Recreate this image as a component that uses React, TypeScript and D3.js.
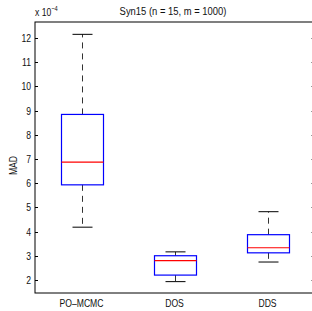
import { useEffect, useRef } from 'react';
import * as d3 from 'd3';

const categories = ['PO\u2013MCMC', 'DOS', 'DDS'];
const lowerWhisker = [4.18, 1.93, 2.74];
const q1 = [5.93, 2.2, 3.12];
const median = [6.87, 2.8, 3.33];
const q3 = [8.84, 3.0, 3.87];
const upperWhisker = [12.15, 3.16, 4.82];
const yTicks = [2, 3, 4, 5, 6, 7, 8, 9, 10, 11, 12];

const W = 312;
const H = 311;

export default function App() {
  const svgRef = useRef<SVGSVGElement>(null);

  useEffect(() => {
    if (!svgRef.current) return;
    const svg = d3.select(svgRef.current);
    svg.selectAll('*').remove();

    const left = 35, right = 314, top = 22, bottom = 293;
    const font = '"Liberation Sans", Arial, sans-serif';
    const sx = 0.82; // the reference text is a condensed Helvetica

    const x = d3.scaleLinear().domain([0.5, 3.5]).range([left, right]);
    const y = d3.scaleLinear().domain([1.46, 12.66]).range([bottom, top]);

    const data = categories.map((c, i) => ({
      name: c,
      pos: i + 1,
      lo: lowerWhisker[i],
      q1: q1[i],
      med: median[i],
      q3: q3[i],
      hi: upperWhisker[i],
    }));

    const label = (px: number, py: number, txt: string, anchor: string, size: number, rot = 0) =>
      svg.append('text')
        .attr('transform', `translate(${px},${py}) rotate(${rot}) scale(${sx},1)`)
        .attr('text-anchor', anchor).attr('font-family', font).attr('font-size', size)
        .attr('fill', '#111')
        .text(txt);

    // axes box
    svg.append('rect')
      .attr('x', left).attr('y', top)
      .attr('width', right - left).attr('height', bottom - top)
      .attr('fill', 'white').attr('stroke', 'black').attr('stroke-width', 1);

    // y ticks (inward, both sides)
    yTicks.forEach(t => {
      const ty = Math.round(y(t)) + 0.5;
      svg.append('line').attr('x1', left).attr('x2', left + 3).attr('y1', ty).attr('y2', ty)
        .attr('stroke', 'black');
      svg.append('line').attr('x1', right).attr('x2', right - 3).attr('y1', ty).attr('y2', ty)
        .attr('stroke', '#999');
      label(left - 4, ty + 3.7, String(t), 'end', 10.5);
    });

    // x tick labels
    data.forEach(d => label(x(d.pos), bottom + 14, d.name, 'middle', 10.5));

    const boxW = 42;
    const capW = 20;
    const g = svg.append('g');
    data.forEach(d => {
      const cx = Math.round(x(d.pos)) + 0.5;
      // whiskers
      g.append('line').attr('x1', cx).attr('x2', cx).attr('y1', y(d.q3)).attr('y2', y(d.hi))
        .attr('stroke', '#333').attr('stroke-dasharray', '6,5');
      g.append('line').attr('x1', cx).attr('x2', cx).attr('y1', y(d.q1)).attr('y2', y(d.lo))
        .attr('stroke', '#333').attr('stroke-dasharray', '6,5');
      // caps
      g.append('line').attr('x1', cx - capW / 2).attr('x2', cx + capW / 2)
        .attr('y1', y(d.hi)).attr('y2', y(d.hi)).attr('stroke', 'black');
      g.append('line').attr('x1', cx - capW / 2).attr('x2', cx + capW / 2)
        .attr('y1', y(d.lo)).attr('y2', y(d.lo)).attr('stroke', 'black');
      // box
      g.append('rect').attr('x', cx - boxW / 2).attr('y', y(d.q3))
        .attr('width', boxW).attr('height', y(d.q1) - y(d.q3))
        .attr('fill', 'none').attr('stroke', '#0000ff').attr('stroke-width', 1.2);
      // median
      g.append('line').attr('x1', cx - boxW / 2).attr('x2', cx + boxW / 2)
        .attr('y1', y(d.med)).attr('y2', y(d.med)).attr('stroke', '#ff0000').attr('stroke-width', 1.2);
    });

    // title
    label(173, 15, 'Syn15 (n = 15, m = 1000)', 'middle', 11.5);

    // exponent
    const ex = svg.append('text')
      .attr('transform', `translate(35,16) scale(${sx},1)`)
      .attr('font-family', font).attr('font-size', 10.5).attr('fill', '#111');
    ex.append('tspan').text('x 10');
    ex.append('tspan').attr('dy', -5).attr('font-size', 7).text('\u22124');

    // y label
    label(17, (top + bottom) / 2 + 8, 'MAD', 'middle', 10.5, -90);
  }, []);

  return (
    <div style={{ position: 'absolute', left: 0, top: 0, width: W, height: H, background: 'white' }}>
      <svg ref={svgRef} width={W} height={H}></svg>
    </div>
  );
}
